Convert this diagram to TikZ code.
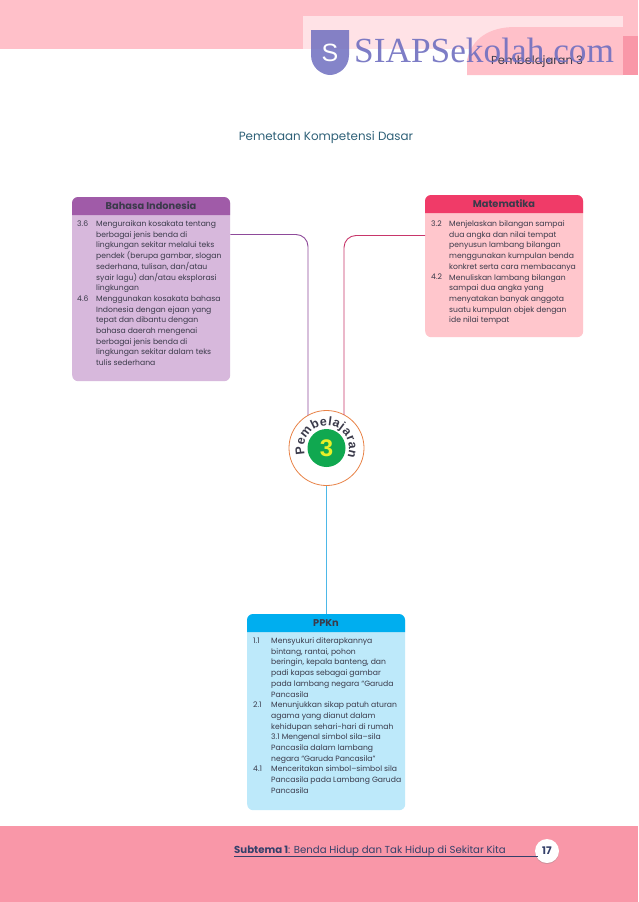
\documentclass[tikz,border=0pt]{standalone}
\usepackage{fontspec}
\setmainfont{Poppins}
\newfontfamily\wmfont{Liberation Serif}
\newfontfamily\headfont{Liberation Sans}
\usetikzlibrary{calc,decorations.text,shadows}
\definecolor{bandpink}{HTML}{FFC0C9}
\definecolor{footpink}{HTML}{F997A8}
\definecolor{inkdark}{HTML}{3A3A4A}
\definecolor{footink}{HTML}{34406A}
\definecolor{titleink}{HTML}{2F6178}
\definecolor{wm}{HTML}{6F6FC0}
\definecolor{biHead}{HTML}{A05BA8}
\definecolor{biBody}{HTML}{D7B8DC}
\definecolor{mtHead}{HTML}{F03B68}
\definecolor{mtBody}{HTML}{FFC6CC}
\definecolor{ppHead}{HTML}{00AEEF}
\definecolor{ppBody}{HTML}{BDE9FA}
\definecolor{biLine}{HTML}{8E4A9A}
\definecolor{mtLine}{HTML}{C8366A}
\definecolor{ppLine}{HTML}{4DB8E8}
\tikzset{
  x=1pt,y=-1pt,
  body/.style={rounded corners=6pt,minimum width=158pt,inner sep=0pt,anchor=north west},
  head/.style={font=\fontsize{9.8}{11}\selectfont\bfseries,text=inkdark,inner sep=0pt},
  num/.style={font=\fontsize{7.65}{10.7}\selectfont,text=inkdark,inner sep=0pt,anchor=north west},
  item/.style={font=\fontsize{7.65}{10.7}\selectfont,text=inkdark,inner sep=0pt,anchor=north west,align=left},
  conn/.style={line width=0.9pt,rounded corners=12pt},
}
\begin{document}
\begin{tikzpicture}
\useasboundingbox (0,0) rectangle (638,902);
% page bands
\fill[white] (0,0) rectangle (638,902);
\fill[bandpink] (0,0) rectangle (638,49);
\fill[white,opacity=0.55] (303,16) rectangle (623,49);
\fill[bandpink] (467,75) -- (467,60) .. controls (472,38) and (490,27) .. (515,27) -- (623,27) -- (623,75) -- cycle;
\fill[footpink] (623,36) rectangle (638,75);
\fill[footpink] (0,826) rectangle (638,902);
\node[font=\fontsize{11.6}{13}\selectfont,text=inkdark,inner sep=0pt] (pagehead) at (537,62) {Pembelajaran 3};
% watermark
\fill[wm,opacity=0.85] (311,30) -- (349,30) -- (349,55) .. controls (349,68) and (338,75) .. (330,75) .. controls (322,75) and (311,68) .. (311,55) -- cycle;
\node[font=\headfont\fontsize{25}{26}\selectfont,text=white,inner sep=0pt] (wms) at (330,53) {S};
\node[font=\wmfont\fontsize{35.3}{37}\selectfont,text=wm,opacity=0.9,inner sep=0pt,anchor=base west] (wmtext) at (354,62) {SIAPSekolah.com};
% title
\node[font=\fontsize{11.9}{14}\selectfont,text=titleink,inner sep=0pt] (title) at (326,138) {Pemetaan Kompetensi Dasar};
% centre circle
\node[circle,draw={rgb,255:red,232;green,130;blue,70},line width=0.8pt,fill=white,minimum size=75pt,inner sep=0pt] (pc) at (326.5,448) {};
\node[circle,fill={rgb,255:red,16;green,168;blue,80},minimum size=38pt,inner sep=0pt,font=\headfont\bfseries\fontsize{24}{26}\selectfont,text={rgb,255:red,232;green,240;blue,40}] (pcnum) at (326.5,448) {3};
\path[postaction={decorate},decoration={text along path,text align={fit to path},
  text={|\headfont\bfseries\fontsize{12.5}{14}\selectfont\color{inkdark}|Pembelajaran}}]
  ($(pc.center)+(-21.5,6.6)$) arc[start angle=163,end angle=383,radius=22.5];
% Bahasa Indonesia
\node[body,fill=biBody,minimum height=184pt] (bi) at (72,197) {};
\fill[biHead,rounded corners=6pt] (72,215) -- (72,197) -- (230,197) [sharp corners] -- (230,215) -- cycle;
\node[head] (bihead) at (151,206) {Bahasa Indonesia};
\node[num] (bin1) at (77,220.5) {3.6};
\node[item] (bit1) at (96,220.5) {Menguraikan kosakata tentang\\berbagai jenis benda di\\lingkungan sekitar melalui teks\\pendek (berupa gambar, slogan\\sederhana, tulisan, dan/atau\\syair lagu) dan/atau eksplorasi\\lingkungan};
\node[num] (bin2) at (77,295.5) {4.6};
\node[item] (bit2) at (96,295.5) {Menggunakan kosakata bahasa\\Indonesia dengan ejaan yang\\tepat dan dibantu dengan\\bahasa daerah mengenai\\berbagai jenis benda di\\lingkungan sekitar dalam teks\\tulis sederhana};
% Matematika
\node[body,fill=mtBody,minimum height=142pt] (mt) at (425,195) {};
\fill[mtHead,rounded corners=6pt] (425,213) -- (425,195) -- (583,195) [sharp corners] -- (583,213) -- cycle;
\node[head] (mthead) at (504,204) {Matematika};
\node[num] (mtn1) at (431,220.5) {3.2};
\node[item] (mtt1) at (449,220.5) {Menjelaskan bilangan sampai\\dua angka dan nilai tempat\\penyusun lambang bilangan\\menggunakan kumpulan benda\\konkret serta cara membacanya};
\node[num] (mtn2) at (431,274) {4.2};
\node[item] (mtt2) at (449,274) {Menuliskan lambang bilangan\\sampai dua angka yang\\menyatakan banyak anggota\\suatu kumpulan objek dengan\\ide nilai tempat};
% PPKn
\node[body,fill=ppBody,minimum height=196pt] (pp) at (247,614) {};
\fill[ppHead,rounded corners=6pt] (247,632) -- (247,614) -- (405,614) [sharp corners] -- (405,632) -- cycle;
\node[head] (pphead) at (326,623) {PPKn};
\node[num] (ppn1) at (253,637.5) {1.1};
\node[item] (ppt1) at (271,637.5) {Mensyukuri diterapkannya\\bintang, rantai, pohon\\beringin, kepala banteng, dan\\padi kapas sebagai gambar\\pada lambang negara “Garuda\\Pancasila};
\node[num] (ppn2) at (253,701.7) {2.1};
\node[item] (ppt2) at (271,701.7) {Menunjukkan sikap patuh aturan\\agama yang dianut dalam\\kehidupan sehari-hari di rumah\\3.1 Mengenal simbol sila–sila\\Pancasila dalam lambang\\negara “Garuda Pancasila”};
\node[num] (ppn3) at (253,765.9) {4.1};
\node[item] (ppt3) at (271,765.9) {Menceritakan simbol–simbol sila\\Pancasila pada Lambang Garuda\\Pancasila};
% connectors
\draw[conn,biLine] (bi.east |- 0,234.5) -| ($(pc.center)+(-18.5,-32.7)$);
\draw[conn,mtLine] (mt.west |- 0,235.5) -| ($(pc.center)+(17.5,-33.2)$);
\draw[line width=0.9pt,ppLine] (pc.south) -- (pp.north -| pc.south);
% footer
\coordinate (footstart) at (234,856);
\node[circle,fill=white,minimum size=24pt,inner sep=0pt,drop shadow={opacity=0.35,shadow xshift=0pt,shadow yshift=-1pt},font=\fontsize{10.5}{12}\selectfont\bfseries,text=footink] (pageno) at (547,851) {17};
\draw[line width=0.7pt,footink] (footstart) -- (pageno.south west |- footstart);
\node[font=\fontsize{10.15}{12}\selectfont,text=footink,inner sep=0pt,anchor=base west] (foot) at (234,853.5) {\textbf{Subtema 1}: Benda Hidup dan Tak Hidup di Sekitar Kita};
\end{tikzpicture}
\end{document}
